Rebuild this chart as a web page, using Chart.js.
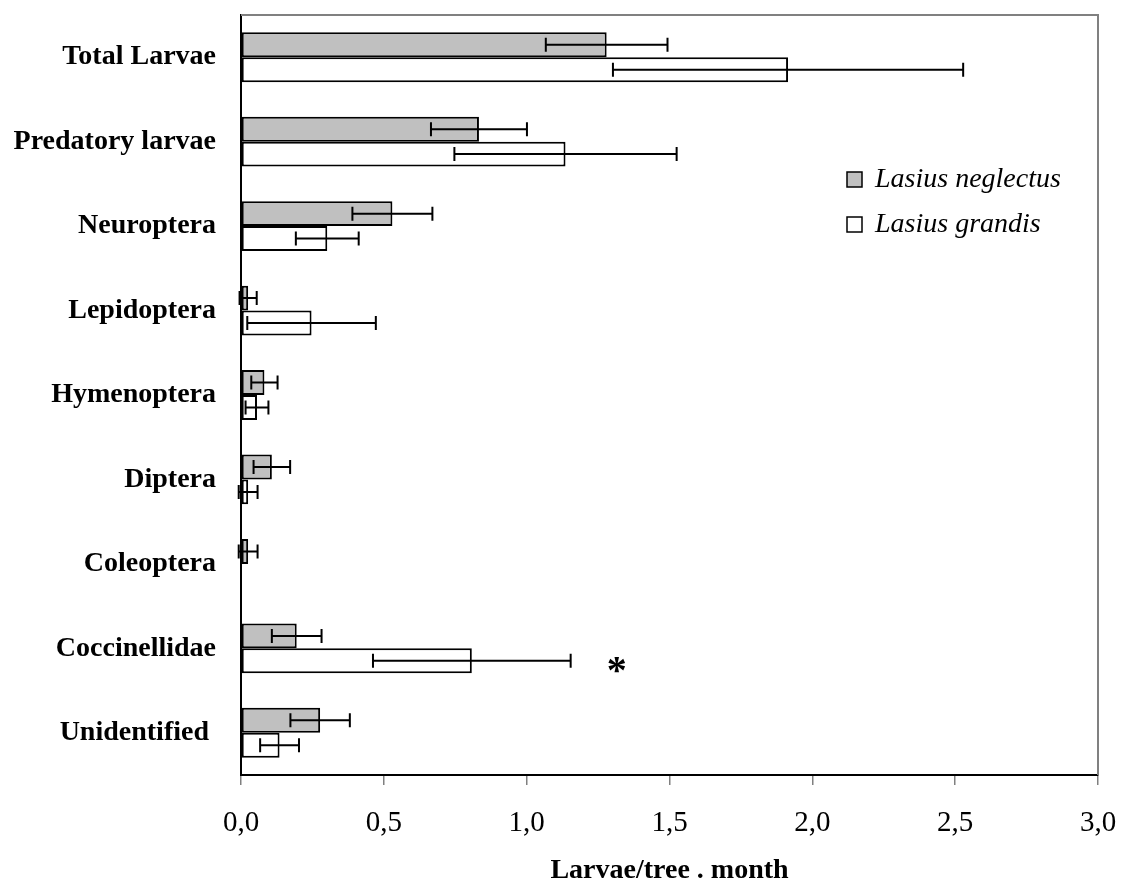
<!DOCTYPE html>
<html>
<head>
<meta charset="utf-8">
<script src="https://cdn.jsdelivr.net/npm/chart.js@4.4.1/dist/chart.umd.min.js"></script>
<style>
  html, body { margin: 0; padding: 0; background: #ffffff; }
  #wrap { width: 1125px; height: 888px; position: relative; }
</style>
</head>
<body>
<div id="wrap"><canvas id="chart" width="1125" height="888"></canvas></div>
<script>
// Larval groups, top to bottom
const categories = [
  'Total Larvae', 'Predatory larvae', 'Neuroptera', 'Lepidoptera',
  'Hymenoptera', 'Diptera', 'Coleoptera', 'Coccinellidae', 'Unidentified '
];
const seriesNames = ['Lasius neglectus', 'Lasius grandis'];

// Mean larvae per tree and month, with the error-bar half-width
const neglectusMean = [1.28, 0.833, 0.53, 0.025, 0.082, 0.108, 0.025, 0.195, 0.277];
const neglectusErr  = [0.213, 0.168, 0.14, 0.03, 0.046, 0.064, 0.033, 0.087, 0.104];
const grandisMean   = [1.915, 1.136, 0.302, 0.247, 0.056, 0.025, 0, 0.808, 0.135];
const grandisErr    = [0.613, 0.389, 0.11, 0.225, 0.04, 0.033, 0, 0.346, 0.068];

// Significant differences between the two ant species
const significance = [{ category: 'Coccinellidae', series: 1, mark: '*' }];

const xMin = 0, xMax = 3, xStep = 0.5;
const xTitle = 'Larvae/tree . month';

const SERIF = "'Liberation Serif', 'Times New Roman', serif";

// Keep the plot area where the layout padding puts it
function noScalePadding(scale) {
  scale.paddingTop = 0;
  scale.paddingBottom = 0;
  scale.paddingLeft = 0;
  scale.paddingRight = 0;
}

// Error bars centred on each bar
const errorBarPlugin = {
  id: 'errorBars',
  afterDatasetsDraw(chart) {
    const { ctx, scales: { x } } = chart;
    ctx.save();
    ctx.strokeStyle = '#000';
    ctx.lineWidth = 2;
    chart.data.datasets.forEach((ds, di) => {
      const meta = chart.getDatasetMeta(di);
      meta.data.forEach((bar, i) => {
        const err = ds.errors[i];
        if (!err) return;
        const v = ds.data[i];
        const x0 = x.getPixelForValue(v - err);
        const x1 = x.getPixelForValue(v + err);
        const y = bar.y;
        const cap = 7;
        ctx.beginPath();
        ctx.moveTo(x0, y); ctx.lineTo(x1, y);
        ctx.moveTo(x0, y - cap); ctx.lineTo(x0, y + cap);
        ctx.moveTo(x1, y - cap); ctx.lineTo(x1, y + cap);
        ctx.stroke();
      });
    });
    ctx.restore();
  }
};

// Grey top and right edges of the plot frame
const framePlugin = {
  id: 'frame',
  beforeDatasetsDraw(chart) {
    const { ctx, chartArea: a } = chart;
    ctx.save();
    ctx.strokeStyle = '#808080';
    ctx.lineWidth = 2;
    ctx.beginPath();
    ctx.moveTo(a.left, a.top);
    ctx.lineTo(a.right, a.top);
    ctx.lineTo(a.right, a.bottom);
    ctx.stroke();
    ctx.restore();
  }
};

// Legend inside the plot, upper right
const legendPlugin = {
  id: 'insideLegend',
  afterDraw(chart) {
    const { ctx, chartArea: a } = chart;
    const left = a.left + 606;
    const top = a.top + 157;
    const rowGap = 45;
    ctx.save();
    ctx.font = 'italic 28px ' + SERIF;
    ctx.textBaseline = 'middle';
    ctx.textAlign = 'left';
    chart.data.datasets.forEach((ds, i) => {
      const y = top + i * rowGap;
      ctx.fillStyle = ds.backgroundColor;
      ctx.fillRect(left, y, 15, 15);
      ctx.strokeStyle = '#000';
      ctx.lineWidth = 1.5;
      ctx.strokeRect(left, y, 15, 15);
      ctx.fillStyle = '#000';
      ctx.fillText(ds.label, left + 28, y + 8);
    });
    ctx.restore();
  }
};

// Significance marks to the right of the error bar
const significancePlugin = {
  id: 'significance',
  afterDatasetsDraw(chart) {
    const { ctx, scales: { x } } = chart;
    ctx.save();
    ctx.font = 'bold 40px ' + SERIF;
    ctx.fillStyle = '#000';
    ctx.textAlign = 'center';
    ctx.textBaseline = 'alphabetic';
    significance.forEach(s => {
      const i = categories.findIndex(c => c.trim() === s.category);
      const ds = chart.data.datasets[s.series];
      const bar = chart.getDatasetMeta(s.series).data[i];
      const xe = x.getPixelForValue(ds.data[i] + ds.errors[i]);
      ctx.fillText(s.mark, xe + 46, bar.y + 22);
    });
    ctx.restore();
  }
};

new Chart(document.getElementById('chart'), {
  type: 'bar',
  data: {
    labels: categories,
    datasets: [
      {
        label: seriesNames[0],
        data: neglectusMean,
        errors: neglectusErr,
        backgroundColor: '#c0c0c0',
        borderColor: '#000',
        borderWidth: 2,
        borderSkipped: false
      },
      {
        label: seriesNames[1],
        data: grandisMean,
        errors: grandisErr,
        backgroundColor: '#ffffff',
        borderColor: '#000',
        borderWidth: 2,
        borderSkipped: false
      }
    ]
  },
  options: {
    indexAxis: 'y',
    responsive: false,
    animation: false,
    devicePixelRatio: 1,
    categoryPercentage: 0.59,
    barPercentage: 1.0,
    layout: { padding: { top: 15, right: 27, bottom: 0, left: 0 } },
    plugins: {
      legend: { display: false },
      tooltip: { enabled: false }
    },
    scales: {
      x: {
        type: 'linear',
        min: xMin,
        max: xMax,
        afterFit(scale) { scale.height = 113; noScalePadding(scale); },
        ticks: {
          stepSize: xStep,
          color: '#000',
          padding: 21,
          font: { family: SERIF, size: 29 },
          callback: v => v.toFixed(1).replace('.', ',')
        },
        grid: {
          drawOnChartArea: false,
          drawTicks: true,
          tickLength: 10,
          color: '#808080',
          lineWidth: 1.5
        },
        border: { display: true, color: '#000', width: 2 },
        title: {
          display: true,
          text: xTitle,
          color: '#000',
          font: { family: SERIF, size: 28, weight: 'bold' },
          padding: { top: 0, bottom: 0 }
        }
      },
      y: {
        type: 'category',
        afterFit(scale) { scale.width = 241; noScalePadding(scale); },
        ticks: {
          color: '#000',
          padding: 25,
          autoSkip: false,
          font: { family: SERIF, size: 28, weight: 'bold' }
        },
        grid: { display: false, drawTicks: false },
        border: { display: true, color: '#000', width: 2 }
      }
    }
  },
  plugins: [framePlugin, errorBarPlugin, significancePlugin, legendPlugin]
});
</script>
</body>
</html>
